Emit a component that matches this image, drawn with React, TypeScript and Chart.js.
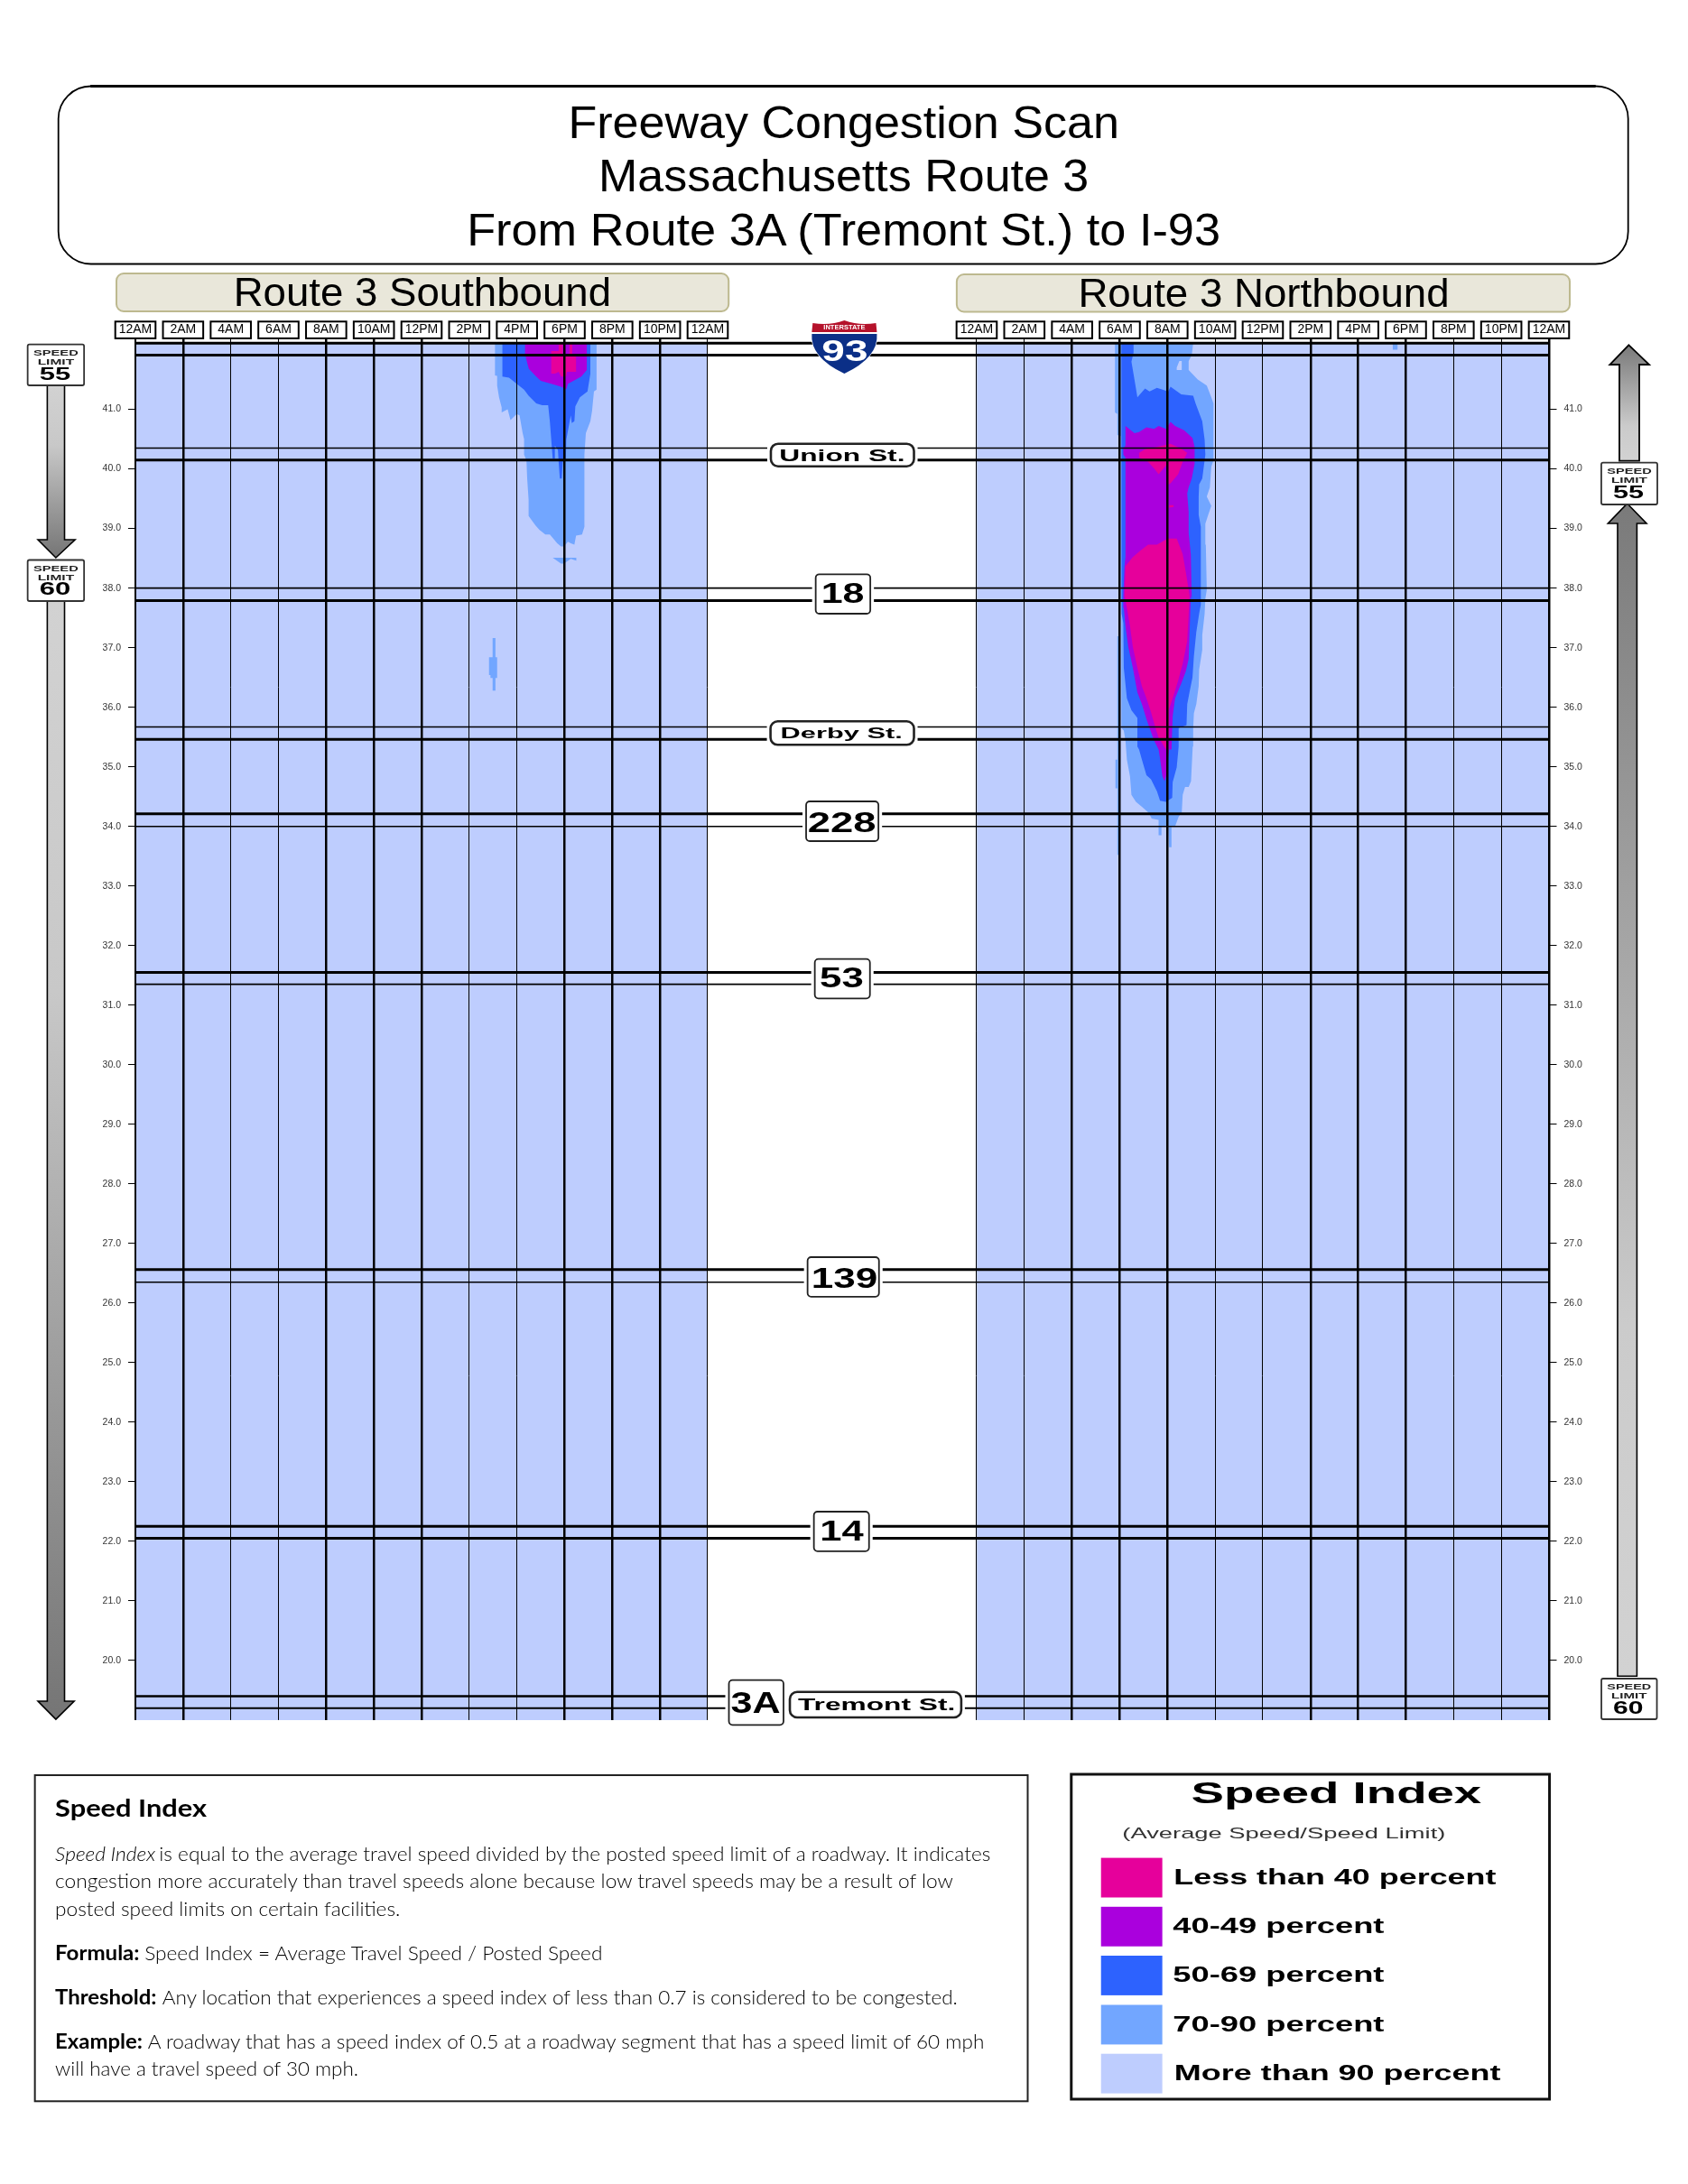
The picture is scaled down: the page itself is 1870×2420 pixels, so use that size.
import React, { useEffect, useRef } from "react";
import { Chart, registerables } from "chart.js";

Chart.register(...registerables);

// ---------- data ----------
const hourLabels = ["12AM","2AM","4AM","6AM","8AM","10AM","12PM","2PM","4PM","6PM","8PM","10PM","12AM"];
const hourValues = [0,2,4,6,8,10,12,14,16,18,20,22,24];
const mileTicks = [20,21,22,23,24,25,26,27,28,29,30,31,32,33,34,35,36,37,38,39,40,41];
const roadLineMiles = [42.11,41.91,40.35,40.15,38.0,37.79,35.67,35.46,34.21,34.0,31.55,31.35,26.56,26.35,22.25,22.05,19.4,19.2];

const levelNames = ["Less than 40 percent","40-49 percent","50-69 percent","70-90 percent","More than 90 percent"];
const levelColors = ["#E6009B","#AA00DD","#2D62FE","#72A6FF","#BECDFE"];

// Southbound contours (hour of day, mile)
const south70Hours = [15.08,15.08,15.17,15.17,15.25,15.36,15.36,15.61,15.73,15.99,16.11,16.24,16.30,16.30,16.40,16.43,16.49,16.49,16.78,16.94,17.19,17.38,17.69,17.85,17.97,18.14,18.26,18.41,18.48,18.73,18.83,18.83,18.89,19.08,19.15,19.23,19.34,19.34];
const south70Miles = [42.11,41.57,41.56,41.40,41.20,41.03,40.95,41.0,40.82,40.92,40.90,40.60,40.50,40.24,40.14,39.84,39.48,39.21,39.05,38.98,38.90,38.90,38.75,38.70,38.70,38.78,38.75,38.73,38.88,38.90,39.03,40.24,40.60,40.80,40.97,41.30,41.33,42.11];
const south70PatchHours = [17.50,18.49,18.49,18.26,17.97,17.85];
const south70PatchMiles = [38.51,38.51,38.46,38.49,38.41,38.41];
const south70BlobHours = [14.98,15.10,15.10,15.17,15.17,15.10,15.10,14.98,14.98,14.89,14.89,14.83,14.83,14.98];
const south70BlobMiles = [37.16,37.16,36.84,36.84,36.49,36.49,36.28,36.28,36.49,36.49,36.54,36.54,36.84,36.84];
const south50Hours = [15.39,15.39,15.67,15.99,16.30,16.49,16.81,17.06,17.31,17.38,17.44,17.50,17.59,17.59,17.72,17.75,17.80,17.88,17.92,18.05,18.07,18.26,18.30,18.41,18.45,18.64,18.96,19.08,19.08];
const south50Miles = [42.11,41.55,41.53,41.43,41.33,41.23,41.10,41.07,41.07,40.80,40.49,40.17,40.17,40.39,40.32,40.12,39.84,39.84,40.12,40.14,40.49,40.90,40.77,40.80,41.05,41.20,41.30,41.60,42.11];
const south40Hours = [16.34,16.34,16.43,16.50,16.81,17.0,17.44,17.85,18.07,18.14,18.70,18.93,18.93];
const south40Miles = [42.11,41.93,41.78,41.68,41.55,41.48,41.43,41.38,41.34,41.43,41.55,41.66,42.11];
const south0Hours = [17.44,17.75,17.75,17.92,17.92,18.20,18.20,18.32,18.32,18.48,18.48,18.10,18.06,17.85,17.75,17.60,17.44];
const south0Miles = [41.98,41.98,42.11,42.11,41.90,41.90,42.11,42.11,41.90,41.90,41.63,41.63,41.55,41.55,41.63,41.60,41.60];

// Northbound contours (hour of day, mile)
const north70Hours = [5.80,5.80,5.90,5.90,6.05,6.05,6.07,6.07,6.17,6.24,6.30,6.43,6.49,6.68,6.93,7.21,7.34,7.63,7.63,7.75,7.75,8.04,8.07,8.17,8.17,8.32,8.47,8.60,8.64,8.74,8.89,8.99,9.06,9.08,9.11,9.21,9.31,9.33,9.46,9.46,9.56,9.59,9.65,9.61,9.59,9.71,9.84,9.65,9.78,9.84,9.93,9.93,9.84,9.65,9.27,8.89,8.89,9.02,9.08];
const north70Miles = [42.11,40.95,40.92,40.57,40.55,37.87,37.57,35.65,35.61,35.44,35.12,34.84,34.53,34.41,34.33,34.23,34.13,34.11,33.85,33.85,34.0,34.0,33.65,33.65,34.0,34.0,34.16,34.23,34.53,34.66,34.66,34.76,35.34,35.65,35.90,36.05,36.35,36.63,36.96,37.21,37.57,37.82,37.97,38.73,39.08,39.23,39.38,39.535,39.69,40.04,40.14,41.10,41.20,41.40,41.50,41.66,41.81,41.91,42.11];
const north70SliverHours = [5.90,5.98,5.98,5.90,5.90,5.82,5.82,5.90];
const north70SliverMiles = [37.19,37.19,33.52,33.52,34.64,34.64,35.12,35.12];
const north70DotHours = [17.45,17.65,17.65,17.45];
const north70DotMiles = [42.11,42.11,42.0,42.0];
const north50Hours = [6.07,6.07,6.09,6.15,6.17,6.30,6.49,6.74,6.74,6.81,6.93,7.12,7.31,7.56,7.69,7.94,8.20,8.22,8.39,8.47,8.47,8.80,8.83,8.95,9.05,9.11,9.21,9.33,9.40,9.40,9.31,9.31,9.33,9.46,9.59,9.56,9.46,9.18,9.08,8.58,8.13,8.01,7.94,7.56,7.25,7.06,6.74,6.68,6.55,6.49,6.58,6.58];
const north50Miles = [42.11,40.75,37.57,37.41,36.66,36.15,35.95,35.82,35.34,35.29,35.12,34.86,34.79,34.59,34.43,34.41,34.48,34.74,34.99,35.34,35.65,35.70,36.05,36.30,36.50,36.86,37.26,37.57,37.72,39.03,39.23,39.535,39.74,39.84,40.24,40.49,40.80,41.10,41.23,41.25,41.38,41.28,41.31,41.36,41.30,41.35,41.20,41.35,41.66,41.80,41.95,42.11];
const north40Hours = [6.24,6.62,6.81,7.12,7.44,7.63,7.94,8.13,8.32,8.70,9.05,9.14,9.14,9.02,8.89,8.83,8.89,8.89,8.98,9.02,8.98,8.93,8.89,8.77,8.58,8.32,8.22,8.17,8.07,7.94,7.88,7.79,7.69,7.63,7.44,7.25,7.12,6.93,6.74,6.55,6.36,6.24,6.17,6.15,6.20,6.24,6.24,6.15,6.15,6.24];
const north40Miles = [40.72,40.60,40.62,40.70,40.67,40.72,40.67,40.79,40.72,40.65,40.52,40.37,40.09,39.84,39.69,39.59,39.28,38.93,38.57,37.82,37.87,37.26,36.81,36.60,36.40,36.15,35.85,35.29,35.29,34.84,34.76,34.84,35.14,35.29,35.44,35.65,35.80,36.05,36.25,36.66,37.01,37.36,37.67,37.87,38.37,38.52,40.19,40.24,40.34,40.39];
const north0LowerHours = [6.24,6.55,6.87,7.19,7.56,8.01,8.39,8.64,8.77,8.89,8.93,8.89,8.83,8.64,8.45,8.26,8.07,8.07,7.94,7.63,7.50,7.31,7.12,6.93,6.74,6.55,6.43,6.30,6.20];
const north0LowerMiles = [38.37,38.52,38.63,38.73,38.73,38.83,38.83,38.57,38.27,37.97,37.87,37.57,37.11,36.73,36.45,36.20,35.97,35.49,35.29,35.49,35.65,35.92,36.15,36.35,36.66,37.01,37.36,37.67,37.87];
const north0UpperHours = [6.81,7.06,7.56,8.13,8.58,8.83,8.64,8.45,8.13,8.04,8.01,7.63,7.44,7.19,6.81];
const north0UpperMiles = [40.27,40.33,40.37,40.42,40.34,40.27,40.12,39.91,39.76,39.74,40.09,39.91,40.01,40.12,40.19];
const north0DotHours = [8.07,8.26,8.26,8.07];
const north0DotMiles = [39.39,39.39,39.36,39.35];
const north90HoleHours = [8.39,8.39,8.50,8.60,8.60];
const north90HoleMiles = [41.66,41.70,41.81,41.81,41.66];

// ---------- layout of the shared axis ----------
const NORTH_OFFSET = 35.28;
const AXIS_MAX = 59.3;
const MILE_MIN = 19;
const MILE_MAX = 42.11;
const southWeights = [2,2.5,1,1,2.5,2.5,2.5,1,1,2.5,2.5,2.5,1];
const northWeights = [1,1,2.5,2.5,2.5,1,1,2.5,2.5,2.5,1,1,2.5];
const roadWeights = [3,3,1.6,3,1.6,3,1.6,3,3,1.6,3,1.6,3,1.6,3,3,2.5,2];

const allTickValues = [...hourValues, ...hourValues.map((h) => h + NORTH_OFFSET)];
const allWeights = [...southWeights, ...northWeights];
const allLabels = [...hourLabels, ...hourLabels];

function shape(hours: number[], miles: number[], level: number, offset = 0) {
  return {
    type: "scatter" as const,
    data: hours.map((h, i) => ({ x: h + offset, y: miles[i] })),
    showLine: true,
    fill: "shape",
    backgroundColor: levelColors[level],
    borderWidth: 0,
    borderColor: "transparent",
    pointRadius: 0,
    order: 10 + level * 2,
  };
}

function road(mile: number, i: number) {
  return {
    type: "scatter" as const,
    data: [{ x: 0, y: mile }, { x: AXIS_MAX, y: mile }],
    showLine: true,
    fill: false,
    borderColor: "#000",
    borderWidth: roadWeights[i],
    pointRadius: 0,
    order: 1,
    clip: false,
  };
}

const tickBoxes = {
  id: "tickBoxes",
  beforeDraw(chart: any) {
    const { ctx, chartArea, scales } = chart;
    ctx.save();
    ctx.fillStyle = "#fff";
    ctx.strokeStyle = "#000";
    ctx.lineWidth = 2;
    allTickValues.forEach((v) => {
      const cx = scales.x.getPixelForValue(v);
      ctx.fillRect(cx - 22.3, chartArea.top - 24, 44.6, 18.6);
      ctx.strokeRect(cx - 22.3, chartArea.top - 24, 44.6, 18.6);
    });
    ctx.restore();
  },
};

const FONT = "'Liberation Sans', Arial, sans-serif";
const BODY = "Lato, 'Noto Sans', sans-serif";

function T({ x, x2, y, size, weight, fill, italic, family, children }: any) {
  const len = x2 !== undefined ? { textLength: x2 - x, lengthAdjust: "spacingAndGlyphs" } : {};
  return (
    <text x={x} y={y} fontSize={size} fontWeight={weight || 400} fontStyle={italic ? "italic" : "normal"} fill={fill || "#000"} fontFamily={family || FONT} {...(len as any)}>
      {children}
    </text>
  );
}

function Badge({ x, y, x2, y2, r = 4, sw = 1.8, tx, tx2, ty, size, label }: any) {
  return (
    <g>
      <rect x={x - 4} y={y} width={x2 - x + 8} height={y2 - y} fill="#fff" />
      <rect x={x} y={y} width={x2 - x} height={y2 - y} rx={r} fill="#fff" stroke="#222" strokeWidth={sw} />
      <T x={tx} x2={tx2} y={ty} size={size} weight={700}>{label}</T>
    </g>
  );
}

function Sign({ x, y, w, h, value }: any) {
  return (
    <g>
      <rect x={x} y={y} width={w} height={h} rx={2} fill="#fff" stroke="#333" strokeWidth={1.8} />
      <T x={x + 6.3} x2={x + w - 6.3} y={y + 12.3} size={9.5} weight={700} fill="#222">SPEED</T>
      <T x={x + 11} x2={x + w - 11} y={y + 22.3} size={9.5} weight={700} fill="#222">LIMIT</T>
      <T x={x + 13} x2={x + w - 15} y={y + 39} size={20} weight={700}>{value}</T>
    </g>
  );
}

export default function App() {
  const ref = useRef<HTMLCanvasElement>(null);

  useEffect(() => {
    const datasets: any[] = [
      ...roadLineMiles.map(road),
      shape(south0Hours, south0Miles, 0),
      shape(north0LowerHours, north0LowerMiles, 0, NORTH_OFFSET),
      shape(north0UpperHours, north0UpperMiles, 0, NORTH_OFFSET),
      shape(north0DotHours, north0DotMiles, 0, NORTH_OFFSET),
      shape(south40Hours, south40Miles, 1),
      shape(north40Hours, north40Miles, 1, NORTH_OFFSET),
      shape(south50Hours, south50Miles, 2),
      shape(north50Hours, north50Miles, 2, NORTH_OFFSET),
      shape(south70Hours, south70Miles, 3),
      shape(south70PatchHours, south70PatchMiles, 3),
      shape(south70BlobHours, south70BlobMiles, 3),
      shape(north70Hours, north70Miles, 3, NORTH_OFFSET),
      shape(north70SliverHours, north70SliverMiles, 3, NORTH_OFFSET),
      shape(north70DotHours, north70DotMiles, 3, NORTH_OFFSET),
      { ...shape([0, 24, 24, 0], [MILE_MAX, MILE_MAX, MILE_MIN, MILE_MIN], 4), order: 30 },
      { ...shape([0, 24, 24, 0], [MILE_MAX, MILE_MAX, MILE_MIN, MILE_MIN], 4, NORTH_OFFSET), order: 30 },
      { ...shape(north90HoleHours, north90HoleMiles, 4, NORTH_OFFSET), order: 15 },
    ];
    const yTick = { color: "#333", font: { family: "'Liberation Sans'", size: 10.5 }, padding: 8, callback: (v: any) => Number(v).toFixed(1) };
    const yGrid = { drawOnChartArea: false, tickLength: 8, color: "#000", tickColor: "#000", tickWidth: 1 };
    const chart = new Chart(ref.current as HTMLCanvasElement, {
      type: "scatter",
      data: { datasets },
      plugins: [tickBoxes],
      options: {
        animation: false,
        responsive: false,
        devicePixelRatio: 1,
        layout: { padding: { left: 60, right: 63.5, top: 270.3, bottom: 514.1 } },
        plugins: { legend: { display: false }, tooltip: { enabled: false } },
        scales: {
          x: {
            type: "linear",
            position: "top",
            min: 0,
            max: AXIS_MAX,
            afterFit: (s: any) => { s.height = 110; },
            afterBuildTicks: (s: any) => { s.ticks = allTickValues.map((value) => ({ value })); },
            border: { display: false },
            grid: {
              z: 1,
              color: "#000",
              tickColor: "#000",
              tickLength: 5.4,
              lineWidth: (c: any) => allWeights[c.index] ?? 1,
              tickWidth: (c: any) => allWeights[c.index] ?? 1,
            },
            ticks: {
              autoSkip: false,
              maxRotation: 0,
              minRotation: 0,
              padding: 1,
              color: "#000",
              font: { family: "'Liberation Sans'", size: 14 },
              callback: (_v: any, i: number) => allLabels[i],
            },
          },
          y: {
            type: "linear",
            position: "left",
            min: MILE_MIN,
            max: MILE_MAX,
            afterFit: (s: any) => { s.width = 90; },
            afterBuildTicks: (s: any) => { s.ticks = mileTicks.map((value) => ({ value })); },
            border: { display: false },
            grid: yGrid,
            ticks: yTick,
          },
          y2: {
            type: "linear",
            position: "right",
            display: true,
            min: MILE_MIN,
            max: MILE_MAX,
            afterFit: (s: any) => { s.width = 90; },
            afterBuildTicks: (s: any) => { s.ticks = mileTicks.map((value) => ({ value })); },
            border: { display: false },
            grid: yGrid,
            ticks: yTick,
          },
        },
      } as any,
    });
    return () => chart.destroy();
  }, []);

  const swatchY = [2058.6, 2112.8, 2167, 2221.5, 2275.7];
  const labelY = [2087.9, 2142, 2196.2, 2250.8, 2304.6];
  const labelX = [[1298.4, 1655], [1297.4, 1531.2], [1297.4, 1531.2], [1297.4, 1531.2], [1298.9, 1660]];

  return (
    <div style={{ position: "absolute", left: 0, top: 0, width: 1870, height: 2420, background: "#fff", overflow: "hidden" }}>
      <canvas ref={ref} width={1870} height={2420} style={{ position: "absolute", left: 0, top: 0 }} />
      <svg width={1870} height={2420} style={{ position: "absolute", left: 0, top: 0 }}>
        <defs>
          <linearGradient id="gDown" x1="0" y1="0" x2="0" y2="1">
            <stop offset="0" stopColor="#D2D2D2" />
            <stop offset="0.35" stopColor="#C8C8C8" />
            <stop offset="1" stopColor="#757575" />
          </linearGradient>
          <linearGradient id="gUp" x1="0" y1="0" x2="0" y2="1">
            <stop offset="0" stopColor="#7A7A7A" />
            <stop offset="0.7" stopColor="#CBCBCB" />
            <stop offset="1" stopColor="#D2D2D2" />
          </linearGradient>
        </defs>
        <g transform="scale(1.0015,1)">
          {/* Title */}
          <rect x={64.6} y={95.5} width={1736.4} height={197} rx={36} fill="#fff" stroke="#000" strokeWidth={1.8} />
          <path d="M100 95.5 L1765 95.5" stroke="#000" strokeWidth={3} />
          <T x={628.5} x2={1238} y={152.7} size={50}>Freeway Congestion Scan</T>
          <T x={662} x2={1204.5} y={212.3} size={50}>Massachusetts Route 3</T>
          <T x={516.4} x2={1350} y={272.3} size={50}>From Route 3A (Tremont St.) to I-93</T>

          {/* Banners */}
          <rect x={128.8} y={303} width={677.2} height={42} rx={8} fill="#E9E7DA" stroke="#BDB98F" strokeWidth={2} />
          <T x={258.3} x2={676} y={339.3} size={45}>Route 3 Southbound</T>
          <rect x={1058.3} y={304} width={678.1} height={41.5} rx={8} fill="#E9E7DA" stroke="#BDB98F" strokeWidth={2} />
          <T x={1192.6} x2={1603.2} y={340} size={45}>Route 3 Northbound</T>

          {/* Interstate shield */}
          <g>
            <path d="M896 355 Q917 359 934 352 Q951 359 972 355 Q977 395 934 418 Q891 395 896 355Z" fill="#fff" />
            <path d="M899 358 Q918 361 934 355 Q950 361 969 358 L970 368 L898 368Z" fill="#B5122B" />
            <path d="M898 370 L970 370 Q972 396 934 414 Q896 396 898 370Z" fill="#0B2F87" />
            <T x={911} x2={957} y={365.5} size={8} weight={700} fill="#fff">INTERSTATE</T>
            <T x={909} x2={960} y={400} size={34} weight={700} fill="#fff">93</T>
          </g>

          {/* Road badges */}
          <Badge x={852.7} y={491.7} x2={1011} y2={516.7} r={8} sw={2.6} tx={862} tx2={1001} ty={510.7} size={17.5} label="Union St." />
          <Badge x={902.3} y={636.3} x2={962.7} y2={680} tx={908.3} tx2={956} ty={668.3} size={31} label="18" />
          <Badge x={852.3} y={799.3} x2={1011} y2={825.3} r={8} sw={2.6} tx={863.3} tx2={998.3} ty={818.3} size={17} label="Derby St." />
          <Badge x={891.7} y={888} x2={971.7} y2={932} tx={893.3} tx2={969} ty={921.7} size={31} label="228" />
          <Badge x={901.3} y={1062.7} x2={962.3} y2={1106.3} tx={906.7} tx2={955.3} ty={1094.3} size={31} label="53" />
          <Badge x={893.3} y={1393} x2={972.3} y2={1436.8} tx={897.3} tx2={970.7} ty={1426.8} size={31} label="139" />
          <Badge x={900.3} y={1675} x2={961.3} y2={1718.8} tx={907} tx2={955.3} ty={1707.5} size={31} label="14" />
          <Badge x={806.3} y={1861.7} x2={866.7} y2={1911.3} tx={808.3} tx2={863.3} ty={1898} size={33} label="3A" />
          <Badge x={873.7} y={1874.8} x2={1063.3} y2={1903} r={8} sw={2.6} tx={882.7} tx2={1056.7} ty={1895.5} size={17.5} label="Tremont St." />

          {/* Left speed arrows */}
          <path d="M52.3 427 L71.4 427 L71.4 598 L83 598 L61.8 618 L42 598 L52.3 598Z" fill="url(#gDown)" stroke="#000" strokeWidth={1.6} />
          <path d="M52.3 666 L71.4 666 L71.4 1885 L82 1885 L61.8 1905 L42 1885 L52.3 1885Z" fill="url(#gDown)" stroke="#000" strokeWidth={1.6} />
          <Sign x={30.6} y={381.7} w={62.4} h={45.3} value="55" />
          <Sign x={30.6} y={620.5} w={62.4} h={45.5} value="60" />

          {/* Right speed arrows */}
          <path d="M1801.7 382.3 L1824.3 404 L1813.3 404 L1813.3 510.7 L1791.3 510.7 L1791.3 404 L1780.7 404Z" fill="url(#gUp)" stroke="#000" strokeWidth={1.8} />
          <path d="M1800 558 L1821.3 580 L1810.7 580 L1810.7 1857.3 L1789.3 1857.3 L1789.3 580 L1778.7 580Z" fill="url(#gUp)" stroke="#000" strokeWidth={1.6} />
          <Sign x={1771.3} y={512.7} w={62} h={46.3} value="55" />
          <Sign x={1771.4} y={1860} w={61.4} h={45} value="60" />

          {/* Explanation box */}
          <rect x={38.6} y={1967} width={1098.2} height={361.3} fill="#fff" stroke="#222" strokeWidth={2} />
          <T x={61} x2={228.7} y={2012.7} size={27} weight={700} family={BODY}>Speed Index</T>
          <T x={61} x2={171.9} y={2061.8} size={22} weight={300} italic family={BODY}>Speed Index</T>
          <T x={176} x2={1095.7} y={2061.8} size={22} weight={300} family={BODY}>is equal to the average travel speed divided by the posted speed limit of a roadway. It indicates</T>
          <T x={61} x2={1054.4} y={2092.4} size={22} weight={300} family={BODY}>congestion more accurately than travel speeds alone because low travel speeds may be a result of low</T>
          <T x={61} x2={442.7} y={2122.7} size={22} weight={300} family={BODY}>posted speed limits on certain facilities.</T>
          <T x={61} x2={154.3} y={2171.7} size={22} weight={700} family={BODY}>Formula:</T>
          <T x={160} x2={666.4} y={2171.7} size={22} weight={300} family={BODY}>Speed Index = Average Travel Speed / Posted Speed</T>
          <T x={61} x2={173.3} y={2221} size={22} weight={700} family={BODY}>Threshold:</T>
          <T x={179.6} x2={1059.3} y={2221} size={22} weight={300} family={BODY}>Any location that experiences a speed index of less than 0.7 is considered to be congested.</T>
          <T x={61} x2={157.8} y={2270.5} size={22} weight={700} family={BODY}>Example:</T>
          <T x={163.5} x2={1088.7} y={2270.5} size={22} weight={300} family={BODY}>A roadway that has a speed index of 0.5 at a roadway segment that has a speed limit of 60 mph</T>
          <T x={61} x2={396.4} y={2300.2} size={22} weight={300} family={BODY}>will have a travel speed of 30 mph.</T>

          {/* Legend */}
          <rect x={1185} y={1966} width={529} height={360} fill="#fff" stroke="#111" strokeWidth={3} />
          <T x={1317.6} x2={1638.8} y={1998.5} size={34} weight={700}>Speed Index</T>
          <T x={1241.5} x2={1599} y={2037.2} size={17} fill="#333">(Average Speed/Speed Limit)</T>
          {levelNames.map((name, i) => (
            <g key={name}>
              <rect x={1217.9} y={swatchY[i]} width={67.8} height={43.9} fill={levelColors[i]} />
              <T x={labelX[i][0]} x2={labelX[i][1]} y={labelY[i]} size={23} weight={700}>{name}</T>
            </g>
          ))}
        </g>
      </svg>
    </div>
  );
}
